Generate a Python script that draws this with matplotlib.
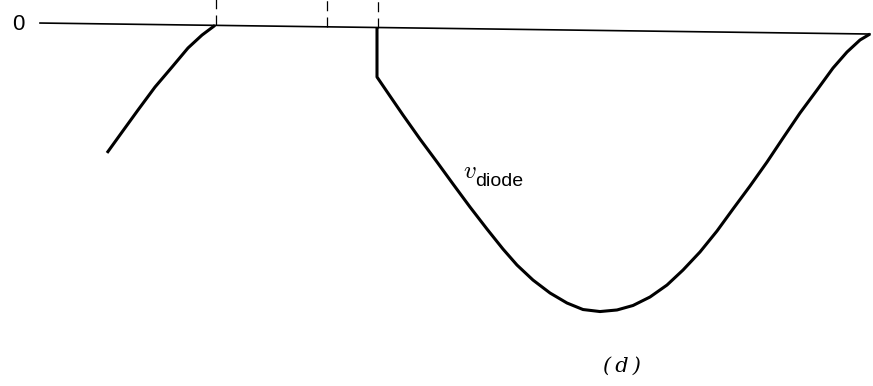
import matplotlib
matplotlib.use("Agg")
import matplotlib.pyplot as plt
from matplotlib.transforms import Affine2D

# time positions (arbitrary units) and diode voltage (negative = reverse)
t_left = [107, 122, 138, 155, 172, 188, 202, 215]
v_left = [-129, -108, -85.7, -62.5, -42.3, -23, -9.9, 0]

t_right = [377, 377, 390, 403, 420, 437, 453, 470, 487, 503, 517, 533, 550,
           567, 583, 600, 617, 633, 650, 667, 683, 700, 717, 733, 750, 767,
           783, 800, 817, 833, 847, 860, 870]
v_right = [0, -49.5, -68.4, -87.2, -111, -133.7, -155.5, -178.3, -200.1,
           -219.9, -235.7, -250.5, -263.2, -273, -279.3, -281.1, -279.3,
           -274.6, -265.9, -253.7, -238.5, -220.2, -199, -176.8, -153.6,
           -129.4, -105.2, -79.9, -56.7, -34.5, -18.3, -6.1, 0]

t_marks = [216, 327, 378]
t_axis = [40, 870]

W, H = 873, 386
fig = plt.figure(figsize=(W / 100, H / 100), dpi=100)
ax = fig.add_axes([0, 0, 1, 1])
top = 22.5
ax.set_xlim(0, W)
ax.set_ylim(top - H, top)
ax.axis("off")

# the scanned original is slightly rotated
scan_tilt = Affine2D(matrix=[[1, 0, 0], [-0.01325, 1, 0], [0, 0, 1]]) + ax.transData

ax.plot(t_axis, [0, 0], color="black", lw=1.2, transform=scan_tilt)
for tm in t_marks:
    ax.plot([tm, tm], [0, 60], color="black", lw=0.9,
            linestyle=(0, (8, 5)), transform=scan_tilt)

ax.plot(t_left, v_left, color="black", lw=2.2, solid_capstyle="butt",
        solid_joinstyle="round", transform=scan_tilt)
ax.plot(t_right, v_right, color="black", lw=2.2, solid_joinstyle="round",
        solid_capstyle="butt", transform=scan_tilt)

ax.text(18, top - 25, "0", fontsize=16, family="Liberation Sans",
        ha="center", va="center")
ax.text(470, top - 177.5, "$v$", fontsize=18, ha="center", va="baseline",
        math_fontfamily="cm")
ax.text(475, top - 186.5, "diode", fontsize=14, family="Liberation Sans",
        ha="left", va="baseline")
ax.text(622, top - 366, "(\u2009d\u2009)", fontsize=15, family="DejaVu Serif",
        style="italic", ha="center", va="center")

fig.savefig("out.png", dpi=100)
